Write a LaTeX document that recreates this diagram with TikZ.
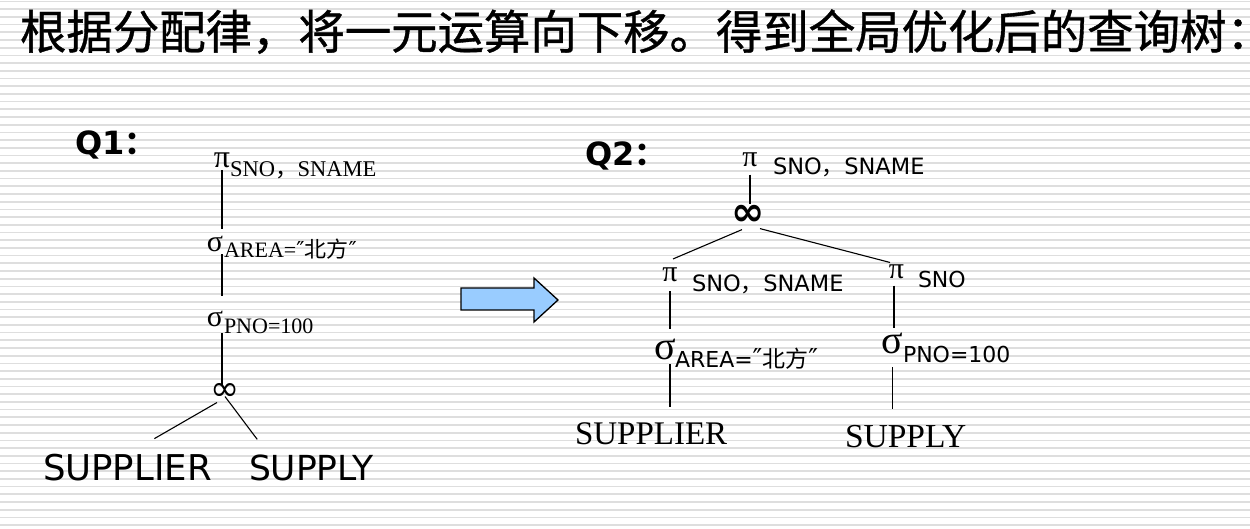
\documentclass[tikz,border=0pt]{standalone}
\usepackage{fontspec}
\setmainfont{Liberation Serif}
\newfontfamily\sans{DejaVu Sans}
\newfontfamily\cjk{Noto Sans CJK SC}
\newfontfamily\cjktitle[FakeBold=0.8]{Noto Sans CJK SC}
\usetikzlibrary{calc}

\definecolor{stripe}{RGB}{222,222,222}
\definecolor{arrowfill}{RGB}{153,204,255}

\newcommand{\fs}[1]{\fontsize{#1}{#1}\selectfont}
% one heading character on a fixed grid
\newcommand{\tc}[1]{\makebox[46.4pt][c]{#1}}

\tikzset{
  txt/.style={inner sep=0pt, outer sep=0pt, anchor=base west},
  sym/.style={inner sep=0pt, outer sep=0pt, anchor=center},
  edge/.style={draw=black, line width=1.1pt}
}

\begin{document}
\begin{tikzpicture}[x=1pt, y=-1pt]
  % canvas and striped background
  \fill[white] (0,0) rectangle (1250,529);
  \useasboundingbox (0,0) rectangle (1250,529);
  \foreach \i in {0,...,68} {
    \draw[stripe, line width=1.7pt] (0,{1.5+7.7*\i}) -- (1250,{1.5+7.7*\i});
  }

  % heading
  \node[txt] (title) at (20,49) {\cjktitle\fs{46.5}%
    \tc{根}\tc{据}\tc{分}\tc{配}\tc{律}\tc{，}\tc{将}\tc{一}\tc{元}\tc{运}\tc{算}\tc{向}\tc{下}%
    \tc{移}\tc{。}\tc{得}\tc{到}\tc{全}\tc{局}\tc{优}\tc{化}\tc{后}\tc{的}\tc{查}\tc{询}\tc{树}%
    \makebox[0pt][l]{：}};

  % ---------- Q1: initial tree ----------
  \node[txt] (q1) at (75,155) {\sans\bfseries\fs{32}Q1\cjk ：};

  \node[sym] (p1) at (222,160) {\fs{32}π};
  \node[txt] (p1sub) at (230,177) {\fs{22.5}SNO{\cjk ，}SNAME};

  \node[sym] (s1) at (215,243.5) {\fs{30}σ};
  \node[txt] (s1sub) at (224,258) {\fs{22}AREA={\sans ″}{\cjk 北方}{\sans ″}};

  \node[sym] (s2) at (215,318.5) {\fs{30}σ};
  \node[txt] (s2sub) at (224,333) {\fs{22}PNO=100};

  \node[sym] (j1) at (225,392) {\sans\fs{35}∞};

  \node[txt] (sup1) at (43,480) {\sans\fs{35.5}SUPPLIER};
  \node[txt] (sup2) at (249,480) {\sans\fs{34.5}SUPPLY};

  \draw[edge, shorten <=3pt, shorten >=7pt] (p1.south) -- (p1.south |- s1.north);
  \draw[edge, shorten <=3pt, shorten >=15pt] (p1.south |- s1.south) -- (p1.south |- s2.north);
  \draw[edge, shorten <=7pt, shorten >=-3pt] (p1.south |- s2.south) -- (p1.south |- j1.north);
  \draw[edge] ($(j1.south)+(-8pt,-2pt)$) -- ($(sup1.north)+(27pt,15pt)$);
  \draw[edge] ($(j1.south)+(0pt,4pt)$) -- ($(sup2.north)+(-54pt,15pt)$);

  % ---------- transformation arrow ----------
  \draw[line width=1.3pt, fill=arrowfill, line join=miter]
    (461,288) -- (534,288) -- (534,278) -- (558,300) -- (534,322) -- (534,310) -- (461,310) -- cycle;

  % ---------- Q2: optimised tree ----------
  \node[txt] (q2) at (585,166) {\sans\bfseries\fs{32}Q2\cjk ：};

  \node[sym] (p2) at (750,159.5) {\fs{30}π};
  \node[txt] (p2sub) at (773,175) {\sans\fs{22.5}SNO{\cjk ，}SNAME};

  \node[sym] (j2) at (748.5,215.5) {\sans\bfseries\fs{40}∞};

  \node[sym] (p3) at (670,275) {\fs{30}π};
  \node[txt] (p3sub) at (692,292) {\sans\fs{22.5}SNO{\cjk ，}SNAME};

  \node[sym] (p4) at (896.5,271.5) {\fs{30}π};
  \node[txt] (p4sub) at (918,288) {\sans\fs{22}SNO};

  \node[sym] (s3) at (665,349) {\fs{40}σ};
  \node[txt] (s3sub) at (675,367) {\sans\fs{22}AREA={\fs{26}″}{\cjk\fs{23}北方}{\fs{26}″}};

  \node[sym] (s4) at (892.5,343) {\fs{40}σ};
  \node[txt] (s4sub) at (903,362) {\sans\fs{22}PNO=100};

  \node[txt] (sup3) at (575,444) {\fs{33}SUPPLIER};
  \node[txt] (sup4) at (845,447) {\fs{33.5}SUPPLY};

  \draw[edge, shorten <=8pt, shorten >=1pt] (p2.south) -- (p2.south |- j2.north);
  \draw[edge] ($(j2.south)+(-6.5pt,-4pt)$) -- ($(p3.north)+(3pt,9pt)$);
  \draw[edge] ($(j2.south)+(11.5pt,-3pt)$) -- ($(p4.north)+(-6.5pt,2pt)$);
  \draw[edge, shorten <=9pt, shorten >=10pt] (p3.south) -- (p3.south |- s3.north);
  \draw[edge, shorten <=5pt, shorten >=15pt] (p3.south |- s3.south) -- (p3.south |- sup3.north);
  \draw[edge, shorten <=7pt, shorten >=5pt] ($(p4.south)+(-2.5pt,0)$) -- ($(p4.south |- s4.north)+(-2.5pt,0)$);
  \draw[edge, shorten <=14pt, shorten >=16pt] (s4.south) -- (s4.south |- sup4.north);
\end{tikzpicture}
\end{document}
